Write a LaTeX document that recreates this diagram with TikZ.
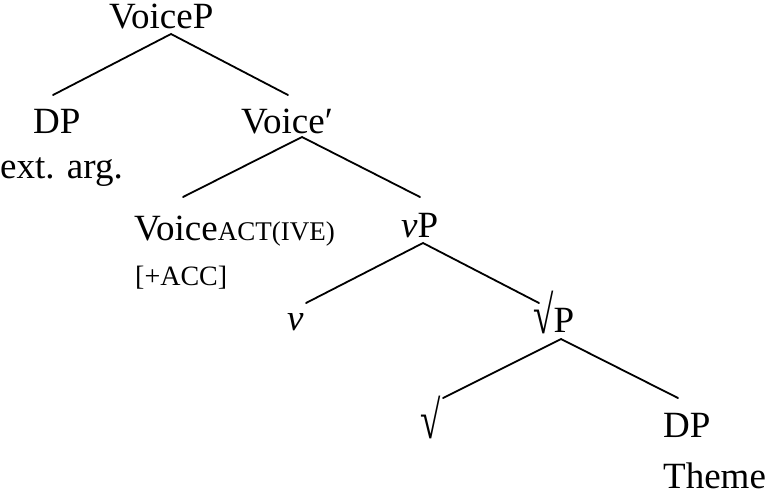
\documentclass[tikz,border=0pt]{standalone}
\usepackage{fontspec}
\usepackage{graphicx}
\setmainfont{Liberation Serif}
\usetikzlibrary{calc}
\newcommand{\tallroot}{\raisebox{-1pt}{\scalebox{1}[1.45]{√}}}
\tikzset{
  lbl/.style={anchor=base west, inner sep=0pt, font=\fontsize{37}{44}\selectfont},
  sublbl/.style={anchor=base west, inner sep=0pt, font=\fontsize{28}{34}\selectfont},
  branch/.style={line width=1.8pt, line cap=round}
}
\begin{document}
\begin{tikzpicture}[x=1pt,y=-1pt]
\useasboundingbox (0,0) rectangle (775,491);
\node[lbl] (voicep) at (109,28) {VoiceP};
\node[lbl] (dp1) at (33,133) {DP};
\node[lbl] (ext) at (0,178) {ext. arg.};
\node[lbl] (voicebar) at (241,133) {Voice′};
\node[lbl] (voiceact) at (134,240) {Voice{\fontsize{27}{32}\selectfont ACT(IVE)}};
\node[sublbl] (acc) at (135,285) {[+ACC]};
\node[lbl] (vp) at (401,237) {\textit{v}P};
\node[lbl] (v) at (287,330) {\textit{v}};
\node[lbl] (rootp) at (533,332) {\tallroot P};
\node[lbl] (root) at (420,437) {\tallroot};
\node[lbl] (dp2) at (663,437) {DP};
\node[lbl] (theme) at (663,488) {Theme};
\draw[branch] ($(dp1.base west)+(20,-38)$) -- ($(voicep.base west)+(62,6)$) -- ($(voicebar.base west)+(47,-38)$);
\draw[branch] ($(voiceact.base west)+(49,-43)$) -- ($(voicebar.base west)+(61,4)$) -- ($(vp.base west)+(19,-40)$);
\draw[branch] ($(v.base west)+(19,-27)$) -- ($(vp.base west)+(22,6)$) -- ($(rootp.base west)+(6,-29)$);
\draw[branch] ($(root.base west)+(23,-39)$) -- ($(rootp.base west)+(28,7)$) -- ($(dp2.base west)+(15,-39)$);
\end{tikzpicture}
\end{document}
